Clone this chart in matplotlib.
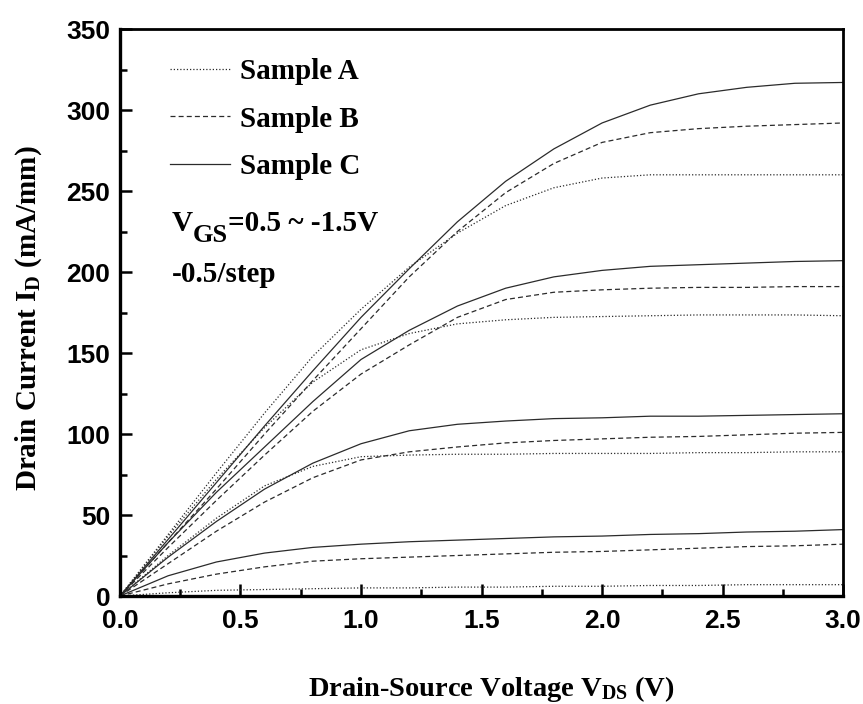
import matplotlib

matplotlib.use("Agg")
import matplotlib.pyplot as plt
from matplotlib.ticker import FormatStrFormatter, MultipleLocator

plt.rcParams["mathtext.fontset"] = "custom"
plt.rcParams["mathtext.rm"] = "Liberation Serif:bold"
plt.rcParams["mathtext.it"] = "Liberation Serif:bold"
plt.rcParams["mathtext.bf"] = "Liberation Serif:bold"

# drain-source voltage sample points (V)
vds = [0.0, 0.2, 0.4, 0.6, 0.8, 1.0, 1.2, 1.4, 1.6, 1.8, 2.0, 2.2, 2.4, 2.6, 2.8, 3.0]

# drain current (mA/mm), one curve per gate bias: VGS = 0.5, 0, -0.5, -1.0 V
sample_a = [
    [0, 38, 76, 113, 148, 177, 203, 224, 241, 252, 258, 260, 260, 260, 260, 260],
    [0, 37, 72, 104, 132, 152, 162, 168, 170.5, 172, 172.5, 173, 173.5, 173.5, 173.5, 173],
    [0, 25, 48, 68, 80, 86, 87, 87.5, 87.5, 88, 88, 88, 88.5, 88.5, 89, 89],
    [0, 2, 3.5, 4, 4.5, 5, 5, 5.5, 5.5, 6, 6, 6.5, 6.5, 7, 7, 7],
]
sample_b = [
    [0, 33, 66, 100, 133, 165, 197, 225, 249, 267, 280, 286, 288.5, 290, 291, 292],
    [0, 30, 59, 87, 114, 137, 155, 172, 183, 187.5, 189, 190, 190.5, 190.5, 191, 191],
    [0, 20, 40, 58, 73, 84, 89, 92, 94.5, 96, 97, 98, 98.5, 99.5, 100.5, 101],
    [0, 7.5, 13.5, 18, 21.5, 23, 24, 25, 26, 27, 27.5, 28.5, 29.5, 30.5, 31, 32],
]
sample_c = [
    [0, 35, 70, 105, 139, 172, 202, 231, 256, 276, 292, 303, 310, 314, 316.5, 317],
    [0, 33, 64, 92, 120, 146, 164, 179, 190, 197, 201, 203.5, 204.5, 205.5, 206.5, 207],
    [0, 24, 46, 66, 82, 94, 102, 106, 108, 109.5, 110, 111, 111, 111.5, 112, 112.5],
    [0, 12.5, 21, 26.5, 30, 32, 33.5, 34.5, 35.5, 36.5, 37, 38, 38.5, 39.5, 40, 41],
]

series = [
    ("Sample A", sample_a, (0, (1, 1.6))),
    ("Sample B", sample_b, (0, (4, 2.5))),
    ("Sample C", sample_c, "-"),
]

fig = plt.figure(figsize=(8.63, 7.04), dpi=100)
ax = fig.add_axes([0.139, 0.1534, 0.838, 0.8054])

for label, curves, style in series:
    for i, cur in enumerate(curves):
        ax.plot(vds, cur, color="#2b2b2b", lw=0.9, linestyle=style,
                label=label if i == 0 else None)

ax.set_xlim(0, 3.0)
ax.set_ylim(0, 350)
ax.xaxis.set_major_locator(MultipleLocator(0.5))
ax.xaxis.set_minor_locator(MultipleLocator(0.25))
ax.yaxis.set_major_locator(MultipleLocator(50))
ax.yaxis.set_minor_locator(MultipleLocator(25))
ax.xaxis.set_major_formatter(FormatStrFormatter("%.1f"))
ax.tick_params(which="both", direction="in", top=False, right=False, width=1.8)
ax.tick_params(which="major", length=8.5)
ax.tick_params(which="minor", length=5)
ax.tick_params(axis="x", pad=9)
ax.tick_params(axis="y", pad=7)
for lab in ax.get_xticklabels() + ax.get_yticklabels():
    lab.set_fontfamily("Liberation Sans")
    lab.set_fontweight("bold")
    lab.set_fontsize(19)
for side in ["left", "bottom"]:
    ax.spines[side].set_linewidth(2.4)
for side in ["top", "right"]:
    ax.spines[side].set_linewidth(2.0)

serif = {"family": "Liberation Serif", "weight": "bold", "size": 21}
ax.set_xlabel(r"Drain-Source Voltage V$_{\mathrm{DS}}$ (V)",
              fontdict={**serif, "size": 20.5}, va="baseline")
ax.set_ylabel(r"Drain Current I$_{\mathrm{D}}$ (mA/mm)", fontdict=serif)
ax.xaxis.set_label_coords(0.513, -0.176)
ax.yaxis.set_label_coords(-0.105, 0.49)

leg = ax.legend(loc="upper left", bbox_to_anchor=(0.033, 0.995), frameon=False,
                prop={"family": "Liberation Serif", "weight": "bold", "size": 21},
                handlelength=2.05, handletextpad=0.34, labelspacing=0.7)
for line in leg.get_lines():
    line.set_linewidth(0.9)

# gate bias note, with a near full-size lowered subscript
v_txt = ax.text(0.072, 0.644, "V", transform=ax.transAxes, va="baseline", **serif)
gs_txt = ax.annotate("GS", xy=(1, 0), xycoords=v_txt, xytext=(0, -7),
                     textcoords="offset points", va="bottom", ha="left",
                     family="Liberation Serif", weight="bold", size=19)
ax.annotate("=0.5 ~ -1.5V", xy=(1, 0), xycoords=gs_txt, xytext=(0, 7),
            textcoords="offset points", va="bottom", ha="left", **serif)
ax.text(0.072, 0.554, "-0.5/step", transform=ax.transAxes, va="baseline", **serif)

fig.savefig("out.png", dpi=100)
